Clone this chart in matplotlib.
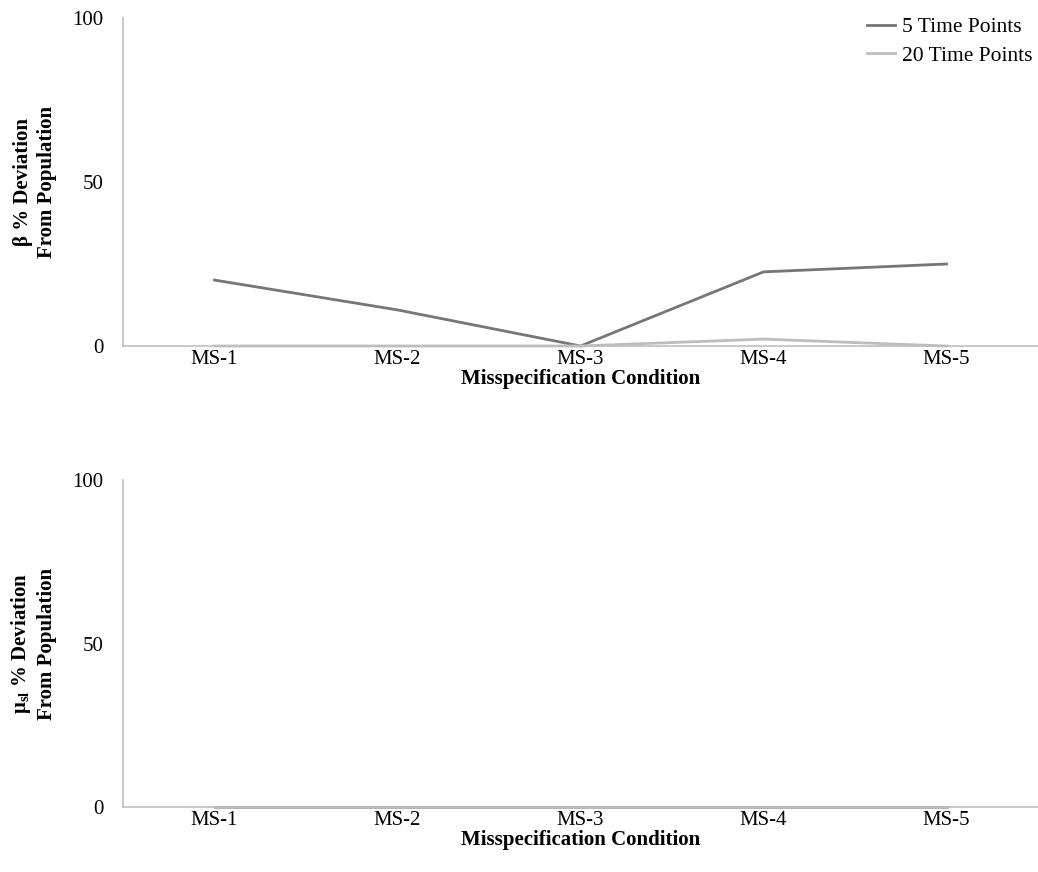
import matplotlib
matplotlib.use("Agg")
import matplotlib.pyplot as plt

plt.rcParams['font.family'] = ['Liberation Serif', 'DejaVu Serif']
plt.rcParams['mathtext.fontset'] = 'custom'
plt.rcParams['mathtext.rm'] = 'Liberation Serif'
plt.rcParams['mathtext.bf'] = 'Liberation Serif:bold'
plt.rcParams['mathtext.it'] = 'Liberation Serif:italic'

categories = ["MS-1", "MS-2", "MS-3", "MS-4", "MS-5"]
beta_5tp = [20.1, 11.0, 0.0, 22.6, 25.0]
beta_20tp = [0.0, 0.0, 0.0, 2.1, 0.0]
mu_5tp = [0.0, 0.0, 0.0, 0.0, 0.0]
mu_20tp = [0.0, 0.0, 0.0, 0.0, 0.0]
yticks = [0, 50, 100]

dark = "#767676"
light = "#bdbdbd"
spine = "#c0c0c0"
FS = 15

fig = plt.figure(figsize=(10.38, 8.72), dpi=100)
W, H = 1038, 872
ax1 = fig.add_axes([123 / W, 1 - 346 / H, (1038 - 123) / W, (346 - 18) / H])
ax2 = fig.add_axes([123 / W, 1 - 807 / H, (1038 - 123) / W, (807 - 480) / H])

x = list(range(len(categories)))
panels = [
    (ax1, beta_5tp, beta_20tp, "β % Deviation\nFrom Population"),
    (ax2, mu_5tp, mu_20tp, r"μ$_{\mathbf{sl}}$ % Deviation" + "\nFrom Population"),
]
for ax, s5, s20, lab in panels:
    ax.plot(x, s5, color=dark, lw=2.0, label="5 Time Points", clip_on=False, zorder=3)
    ax.plot(x, s20, color=light, lw=2.0, label="20 Time Points", clip_on=False, zorder=4)
    ax.set_xlim(-0.5, 4.5)
    ax.set_ylim(0, 100)
    ax.set_yticks(yticks)
    ax.set_xticks(x)
    ax.set_xticklabels(categories)
    ax.tick_params(length=0, labelsize=FS)
    ax.tick_params(axis='x', pad=3)
    ax.tick_params(axis='y', pad=14)
    for s in ["top", "right"]:
        ax.spines[s].set_visible(False)
    for s in ["left", "bottom"]:
        ax.spines[s].set_color(spine)
        ax.spines[s].set_linewidth(1.2)
    ax.set_xlabel("Misspecification Condition", fontsize=FS, fontweight='bold', labelpad=0)
    ax.set_ylabel(lab, fontsize=FS, fontweight='bold', linespacing=1.25)
    ax.yaxis.set_label_coords(-0.072, 0.5)

ax1.legend(loc="upper right", bbox_to_anchor=(1.015, 1.062), frameon=False, fontsize=15.5,
           handlelength=1.3, handletextpad=0.33, labelspacing=0.4)

fig.savefig("out.png", dpi=100)
